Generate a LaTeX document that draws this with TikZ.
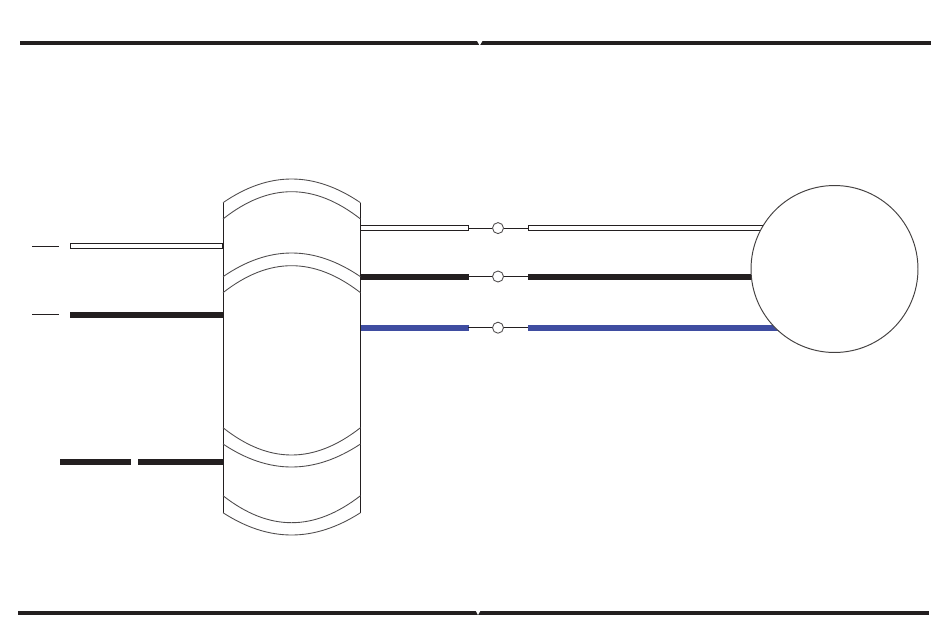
\documentclass[tikz,border=0pt]{standalone}
\usepackage{xcolor}
\usetikzlibrary{calc}
\definecolor{ink}{HTML}{231F20}
\definecolor{wireblue}{HTML}{3F4DA1}
\tikzset{
  thinline/.style={draw=ink, line width=0.55pt},
  arcline/.style={draw=ink!80, line width=0.5pt},
  ruleline/.style={draw=ink, line width=2.5pt},
  hollowwire/.style={draw=ink, line width=0.7pt, fill=white},
  blackwire/.style={draw=ink, line width=3.3pt},
  bluewire/.style={draw=wireblue, line width=3.3pt},
  terminal/.style={circle, draw=ink!80, line width=0.5pt, minimum size=0.22cm, inner sep=0pt},
}

\begin{document}
\begin{tikzpicture}[x=0.02cm,y=-0.02cm]
\useasboundingbox (0,0) rectangle (950,642);

% page rules
\draw[ruleline] (20,43.3) -- (931,43.3);
\fill[white] (476.5,40) -- (483,40) -- (479.7,45.6) -- cycle;
\draw[ruleline] (18,612.8) -- (929,612.8);
\fill[white] (474.8,609) -- (481.4,609) -- (478,615) -- cycle;

% left side
\coordinate (stubA) at (32,246.5);
\coordinate (stubAend) at (58.7,246.5);
\coordinate (stubB) at (32,314.5);
\coordinate (stubBend) at (58.7,314.5);
\draw[thinline] (stubA) -- (stubAend);
\draw[thinline] (stubB) -- (stubBend);
\draw[hollowwire] (70.5,243.4) rectangle (223,248.4);
\draw[blackwire] (70,314.6) -- (223,314.6);
\draw[blackwire] (60,462) -- (130.5,462);
\draw[blackwire] (138,462) -- (223,462);

% right side, wires
\draw[hollowwire] (360,225.6) rectangle (468.3,230.6);
\draw[hollowwire] (528.3,225.6) rectangle (775,230.6);
\draw[blackwire] (360,276.6) -- (468.5,276.6);
\draw[blackwire] (528,276.6) -- (760,276.6);
\draw[bluewire] (360,327.7) -- (468.5,327.7);
\draw[bluewire] (528,327.7) -- (785,327.7);

% terminals
\foreach \name/\ypos in {termA/228.1, termB/276.5, termC/327.7}{
  \coordinate (\name west) at (468,\ypos);
  \coordinate (\name east) at (528,\ypos);
  \node[terminal] (\name) at (498,\ypos) {};
  \draw[thinline] (\name west) -- (\name);
  \draw[thinline] (\name) -- (\name east);
}

% drum
\fill[white] (223.5,203) rectangle (360,513);
\draw[thinline] (223.5,203) -- (223.5,513);
\draw[thinline] (360.5,203) -- (360.5,513);
\foreach \yend/\ymid in {202.7/179, 219/191.7, 276.7/253, 292.7/265.7,
                         427.7/455, 444/467, 495.7/522.7, 512.7/535}{
  \draw[arcline] (223,\yend) .. controls (269,{\ymid*4/3-\yend/3}) and (314,{\ymid*4/3-\yend/3}) .. (360.5,\yend);
}

% motor
\node[circle, draw=ink!85, fill=white, line width=0.55pt, minimum size=3.34cm, inner sep=0pt] (motor) at (834.5,269) {};
\end{tikzpicture}
\end{document}
